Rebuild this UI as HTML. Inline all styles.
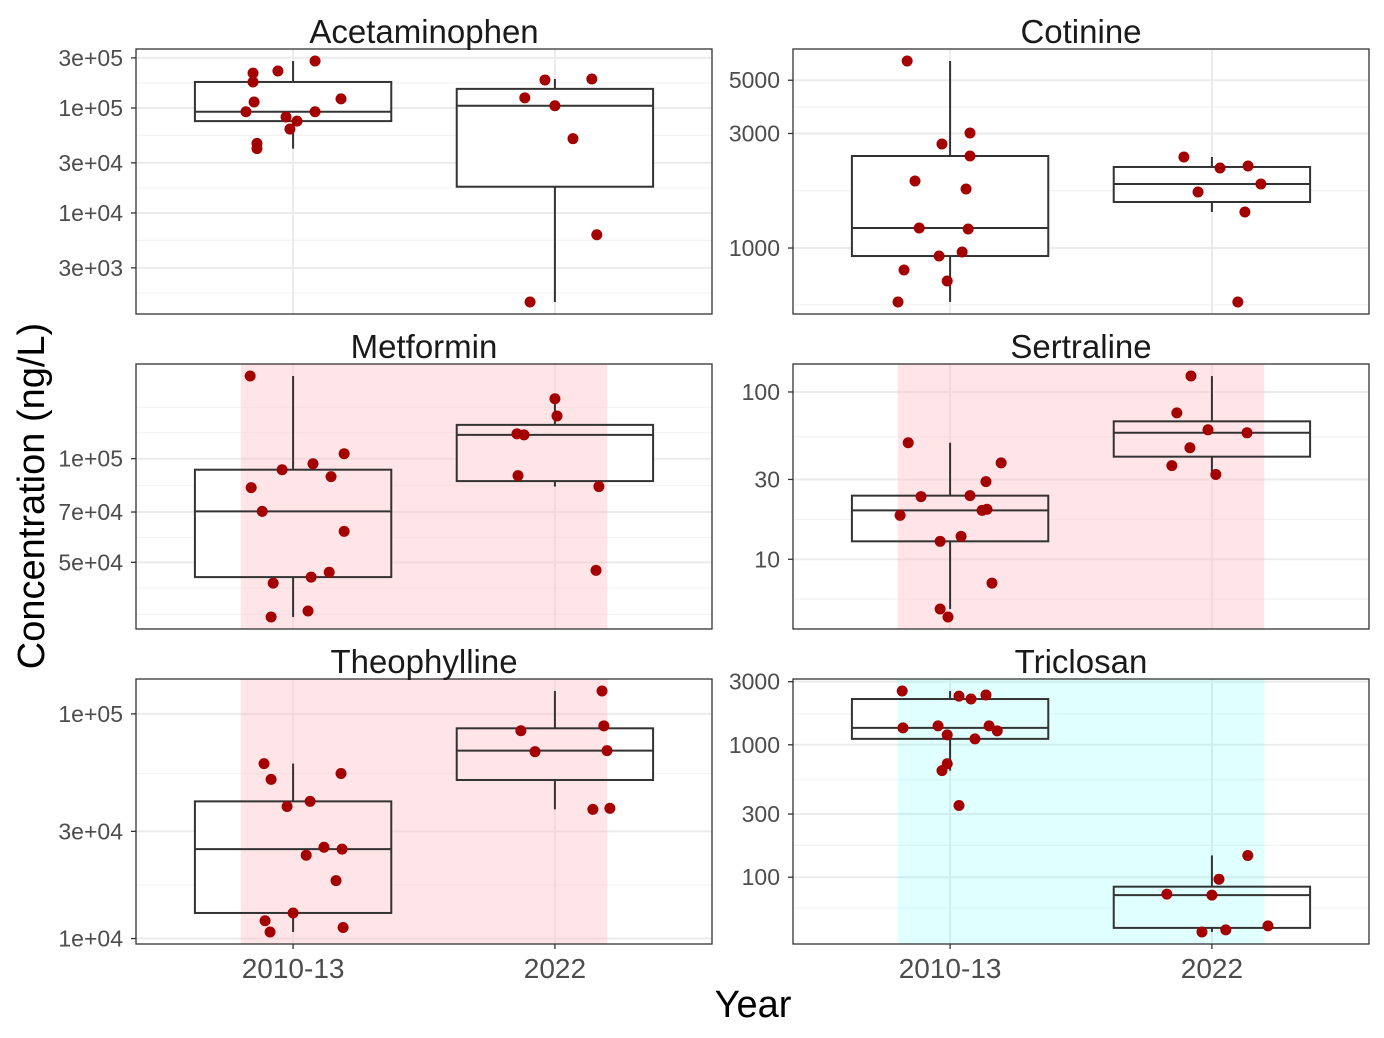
<!DOCTYPE html>
<html><head><meta charset="utf-8"><style>
html,body{margin:0;padding:0;background:#fff}
svg{display:block;font-family:"Liberation Sans",Arial,sans-serif}
</style></head><body>
<svg id="chart" width="1384" height="1038" viewBox="0 0 1384 1038" xmlns="http://www.w3.org/2000/svg">
<rect x="0" y="0" width="1384" height="1038" fill="#fff"/>
<text x="753" y="1017" font-size="38" text-anchor="middle" fill="#000">Year</text>
<text transform="translate(44,496) rotate(-90)" font-size="38" text-anchor="middle" fill="#000">Concentration (ng/L)</text>
</svg>
<script>
const categories = ["2010-13", "2022"];
const panelTitles = ["Acetaminophen", "Cotinine", "Metformin", "Sertraline", "Theophylline", "Triclosan"];
const shading = ["none", "none", "pink", "pink", "pink", "cyan"];

const acetaminophen2010 = [2.15e5,1.77e5,2.25e5,2.8e5,1.22e5,1.14e5,9.2e4,8.2e4,7.5e4,9.2e4,6.3e4,4.6e4,4.1e4];
const acetaminophen2010Jitter = [-0.153,-0.153,-0.058,0.084,0.183,-0.149,-0.18,-0.027,0.015,0.084,-0.012,-0.138,-0.138];
const acetaminophen2022 = [1.85e5,1.89e5,1.25e5,1.05e5,5.1e4,6.2e3,1.42e3];
const acetaminophen2022Jitter = [-0.038,0.141,-0.115,0,0.069,0.16,-0.095];

const cotinine2010 = [6010,3015,2713,2417,1901,1762,1212,1200,926,962,810,729,596];
const cotinine2010Jitter = [-0.164,0.076,-0.031,0.076,-0.134,0.061,-0.118,0.069,-0.042,0.046,-0.176,-0.011,-0.199];
const cotinine2022 = [2395,2154,2197,1711,1848,1413,596];
const cotinine2022Jitter = [-0.107,0.031,0.138,-0.053,0.187,0.126,0.099];

const metformin2010 = [1.738e5,8.24e4,7.03e4,9.29e4,9.67e4,8.87e4,1.034e5,6.15e4,4.35e4,4.53e4,4.68e4,3.47e4,3.61e4];
const metformin2010Jitter = [-0.164,-0.16,-0.118,-0.042,0.076,0.145,0.195,0.195,-0.076,0.069,0.138,-0.084,0.057];
const metformin2022 = [1.493e5,1.331e5,1.181e5,1.173e5,8.93e4,8.30e4,4.74e4];
const metformin2022Jitter = [0,0.008,-0.145,-0.118,-0.141,0.168,0.157];

const sertraline2010 = [49.7,37.7,29.1,23.7,24.0,18.3,19.6,19.9,12.8,13.7,7.2,5.04,4.52];
const sertraline2010Jitter = [-0.16,0.195,0.137,-0.111,0.076,-0.191,0.122,0.141,-0.038,0.042,0.16,-0.038,-0.008];
const sertraline2022 = [124.5,75,59.4,57,46.4,36.3,32.1];
const sertraline2022Jitter = [-0.08,-0.134,-0.015,0.134,-0.084,-0.153,0.015];

const theophylline2010 = [6.01e4,5.11e4,5.43e4,3.87e4,4.08e4,2.55e4,2.50e4,2.35e4,1.81e4,1.30e4,1.20e4,1.07e4,1.12e4];
const theophylline2010Jitter = [-0.111,-0.084,0.183,-0.023,0.065,0.118,0.187,0.05,0.164,0,-0.107,-0.088,0.191];
const theophylline2022 = [1.264e5,8.85e4,8.41e4,6.79e4,6.86e4,3.76e4,3.80e4];
const theophylline2022Jitter = [0.18,0.187,-0.13,-0.076,0.199,0.145,0.21];

const triclosan2010 = [2547,2333,2217,2377,1342,1390,1390,1274,1189,1109,720,638,348];
const triclosan2010Jitter = [-0.183,0.034,0.08,0.137,-0.18,-0.046,0.149,0.18,-0.011,0.095,-0.011,-0.031,0.034];
const triclosan2022 = [146,96.6,74.5,73.2,42.9,38.6,40.0];
const triclosan2022Jitter = [0.137,0.027,-0.172,0,0.214,-0.038,0.053];

const tickValues = [[3e5,1e5,3e4,1e4,3e3],[5000,3000,1000],[1e5,7e4,5e4],[100,30,10],[1e5,3e4,1e4],[3000,1000,300,100]];
const tickLabels = [["3e+05","1e+05","3e+04","1e+04","3e+03"],["5000","3000","1000"],["1e+05","7e+04","5e+04"],["100","30","10"],["1e+05","3e+04","1e+04"],["3000","1000","300","100"]];
const minorValues = [[1.73e5,5.48e4,1.73e4,5.48e3,1.73e3],[3873,1732,580],[1.41e5,1.19e5,8.36e4,5.91e4,4.21e4,3.53e4],[54,17.3,5.78],[5.43e4,1.73e4],[1710,546,174,58.5]];

const seriesA = [acetaminophen2010,cotinine2010,metformin2010,sertraline2010,theophylline2010,triclosan2010];
const jitterA = [acetaminophen2010Jitter,cotinine2010Jitter,metformin2010Jitter,sertraline2010Jitter,theophylline2010Jitter,triclosan2010Jitter];
const seriesB = [acetaminophen2022,cotinine2022,metformin2022,sertraline2022,theophylline2022,triclosan2022];
const jitterB = [acetaminophen2022Jitter,cotinine2022Jitter,metformin2022Jitter,sertraline2022Jitter,theophylline2022Jitter,triclosan2022Jitter];

const svg = document.getElementById('chart');
const NS = 'http://www.w3.org/2000/svg';
function mk(tag, attrs, parent) {
  const e = document.createElementNS(NS, tag);
  for (const k in attrs) e.setAttribute(k, attrs[k]);
  (parent || svg).appendChild(e);
  return e;
}
function quant(sorted, p) {
  const h = (sorted.length - 1) * p, lo = Math.floor(h), hi = Math.ceil(h);
  return sorted[lo] + (sorted[hi] - sorted[lo]) * (h - lo);
}
function boxStats(vals) {
  const l = vals.map(v => Math.log10(v)).sort((a, b) => a - b);
  const q1 = quant(l, 0.25), med = quant(l, 0.5), q3 = quant(l, 0.75), iqr = q3 - q1;
  const inside = l.filter(v => v >= q1 - 1.5 * iqr && v <= q3 + 1.5 * iqr);
  return {q1, med, q3, lo: Math.min(...inside), hi: Math.max(...inside)};
}

const colX = [136, 793], rowY = [49, 364, 679], PW = 576, PH = 265;

for (let p = 0; p < 6; p++) {
  const x0 = colX[p % 2], y0 = rowY[Math.floor(p / 2)];
  const g = mk('g', {});
  
  
  const all = seriesA[p].concat(seriesB[p]).map(v => Math.log10(v));
  const mn = Math.min(...all), mx = Math.max(...all), pad = (mx - mn) * 0.05;
  const dMin = mn - pad, dMax = mx + pad;
  const ys = v => y0 + PH - (Math.log10(v) - dMin) / (dMax - dMin) * PH;
  const yl = l => y0 + PH - (l - dMin) / (dMax - dMin) * PH;
  const xs = u => x0 + (u - 0.4) / 2.2 * PW;

  const bg = mk('rect', {x: x0, y: y0, width: PW, height: PH, fill: '#fff'}, g);
  
  
  minorValues[p].forEach(v => {
    const y = ys(v); if (y < y0 || y > y0 + PH) return;
    const ln = mk('line', {x1: x0, x2: x0 + PW, y1: y, y2: y, stroke: '#f3f3f3', 'stroke-width': 1.2}, g);
    
    
  });
  tickValues[p].forEach(v => {
    const y = ys(v);
    const ln = mk('line', {x1: x0, x2: x0 + PW, y1: y, y2: y, stroke: '#ebebeb', 'stroke-width': 2}, g);
    
    
  });
  categories.forEach((c, i) => {
    const x = xs(i + 1);
    const ln = mk('line', {x1: x, x2: x, y1: y0, y2: y0 + PH, stroke: '#ebebeb', 'stroke-width': 2}, g);
    
    
  });

  const groups = [[seriesA[p], jitterA[p]], [seriesB[p], jitterB[p]]];
  groups.forEach((gr, i) => {
    const s = boxStats(gr[0]);
    const bx = xs(i + 1 - 0.375), bw = xs(i + 1 + 0.375) - bx;
    const r = mk('rect', {x: bx, y: yl(s.q3), width: bw, height: yl(s.q1) - yl(s.q3), fill: '#fff'}, g);
    
    
  });

  if (shading[p] !== 'none') {
    const sr = mk('rect', {x: xs(0.8), y: y0, width: xs(2.2) - xs(0.8), height: PH,
      fill: shading[p] === 'pink' ? 'rgba(255,192,198,0.42)' : 'rgba(0,255,255,0.12)'}, g);
    
    
  }

  groups.forEach((gr, i) => {
    const s = boxStats(gr[0]);
    const cx = xs(i + 1), bx = xs(i + 1 - 0.375), bw = xs(i + 1 + 0.375) - bx;
    const w1 = mk('line', {x1: cx, x2: cx, y1: yl(s.hi), y2: yl(s.q3), stroke: '#333', 'stroke-width': 2}, g);
    
    
    const w2 = mk('line', {x1: cx, x2: cx, y1: yl(s.q1), y2: yl(s.lo), stroke: '#333', 'stroke-width': 2}, g);
    
    
    const b = mk('rect', {x: bx, y: yl(s.q3), width: bw, height: yl(s.q1) - yl(s.q3), fill: 'none', stroke: '#333', 'stroke-width': 2}, g);
    
    
    const m = mk('line', {x1: bx, x2: bx + bw, y1: yl(s.med), y2: yl(s.med), stroke: '#333', 'stroke-width': 2}, g);
    
    
  });
  groups.forEach((gr, i) => {
    gr[0].forEach((v, k) => {
      const c = mk('circle', {cx: xs(i + 1 + gr[1][k]), cy: ys(v), r: 5.5, fill: '#a50000'}, g);
      
      
    });
  });

  const border = mk('rect', {x: x0, y: y0, width: PW, height: PH, fill: 'none', stroke: '#333', 'stroke-width': 1.3}, g);
  
  

  tickValues[p].forEach((v, k) => {
    const y = ys(v);
    const t = mk('line', {x1: x0 - 5, x2: x0, y1: y, y2: y, stroke: '#333', 'stroke-width': 1.3}, g);
    
    
    const tx = mk('text', {x: x0 - 13, y: y + 8, 'font-size': 23, 'text-anchor': 'end', fill: '#4d4d4d'}, g);
    tx.textContent = tickLabels[p][k];
    
    
  });

  const title = mk('text', {x: x0 + PW / 2, y: y0 - 6, 'font-size': 33, 'text-anchor': 'middle', fill: '#1a1a1a'}, g);
  title.textContent = panelTitles[p];
  
  

  if (p >= 4) {
    categories.forEach((c, i) => {
      const x = xs(i + 1);
      const t = mk('line', {x1: x, x2: x, y1: y0 + PH, y2: y0 + PH + 5, stroke: '#333', 'stroke-width': 1.3}, g);
      
      
      const tx = mk('text', {x: x, y: 978, 'font-size': 28, 'text-anchor': 'middle', fill: '#4d4d4d'}, g);
      tx.textContent = c;
      
      
    });
  }
}
</script>
</body></html>
